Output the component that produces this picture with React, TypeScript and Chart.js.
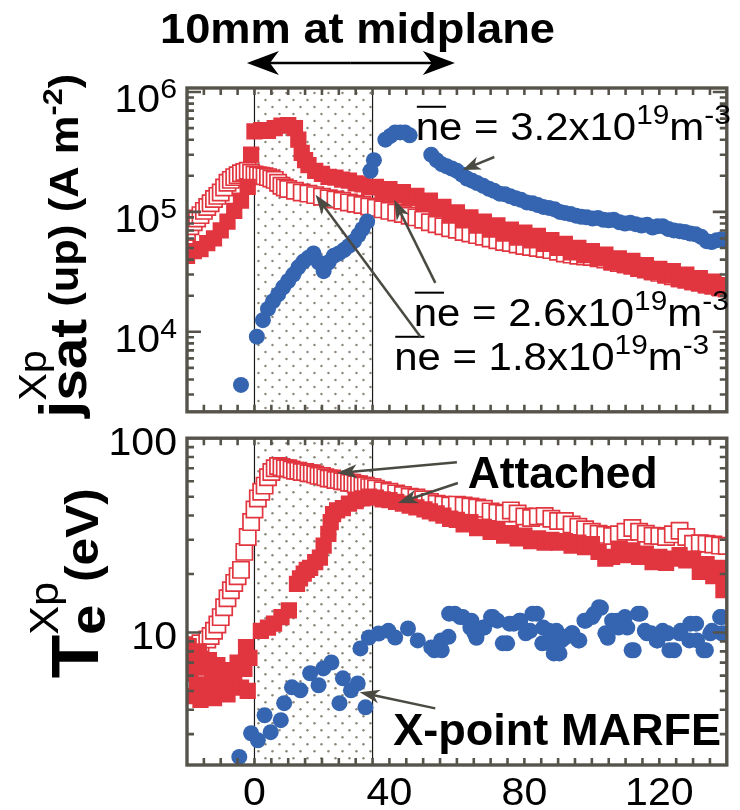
import React, { useEffect, useRef } from "react";
import { Chart, registerables } from "chart.js";

Chart.register(...registerables);

const FONT = '"Liberation Sans", Arial, Helvetica, sans-serif';
const RED = "#e1353f";
const BLUE = "#3565b0";
const FRAME = "#56534b";
const ARROW = "#4a4a42";

// axes
const X_RANGE = [-20, 140];
const X_TICK_LABELS = [0, 40, 80, 120];
const X_MINOR_STEP = 5;
const SHADE_RANGE = [0, 35];
const JSAT_RANGE = [2.15e3, 1.08e6];
const JSAT_LABEL_EXPONENTS = [4, 5, 6];
const TE_RANGE = [2.08, 100];
const TE_LABELS = [10, 100];

// ---- top panel: jsat (A m^-2) ----
const JSAT_NE26: number[][] = [
  [-20, 4.3e4], [-18, 4.7e4], [-16, 4.9e4], [-14, 5.5e4], [-12, 6.0e4], [-10, 7.0e4], [-8, 8.3e4], [-6, 1.02e5],
  [-4, 1.24e5], [-2, 1.62e5], [-1, 3.0e5], [0, 4.7e5], [2, 4.8e5], [4, 4.75e5], [6, 5.0e5], [8, 5.25e5],
  [10, 5.3e5], [12, 5.0e5], [13, 4.0e5], [14, 3.1e5], [15, 2.7e5], [16, 2.45e5], [18, 2.2e5], [20, 2.08e5],
  [22, 1.96e5], [24, 1.93e5], [26, 1.86e5], [28, 1.82e5], [30, 1.73e5], [32, 1.7e5], [34, 1.6e5], [36, 1.62e5],
  [38, 1.45e5], [40, 1.55e5], [42, 1.38e5], [44, 1.46e5], [46, 1.3e5], [48, 1.36e5], [50, 1.18e5], [52, 1.24e5],
  [54, 1.05e5], [56, 1.1e5], [58, 9.3e4], [60, 9.9e4], [62, 8.5e4], [64, 9.0e4], [66, 7.7e4], [68, 8.3e4],
  [70, 7.1e4], [72, 7.7e4], [74, 6.6e4], [76, 7.1e4], [78, 6.1e4], [80, 6.7e4], [82, 5.8e4], [84, 6.3e4],
  [86, 5.4e4], [88, 5.8e4], [90, 5.0e4], [92, 5.4e4], [94, 4.6e4], [96, 5.0e4], [98, 4.35e4], [100, 4.7e4],
  [102, 4.1e4], [104, 4.4e4], [106, 3.8e4], [108, 4.1e4], [110, 3.6e4], [112, 3.9e4], [114, 3.35e4], [116, 3.6e4],
  [118, 3.15e4], [120, 3.35e4], [122, 2.95e4], [124, 3.2e4], [126, 2.75e4], [128, 3.0e4], [130, 2.6e4], [132, 2.8e4],
  [134, 2.45e4], [136, 2.62e4], [138, 2.3e4], [140, 2.45e4],
];

const JSAT_NE18: number[][] = [
  [-20, 6.8e4], [-19, 7.6e4], [-18, 8.2e4], [-17, 8.8e4], [-16, 9.4e4], [-15, 1.02e5], [-14, 1.1e5], [-13, 1.18e5],
  [-12, 1.28e5], [-11, 1.36e5], [-10, 1.45e5], [-9, 1.6e5], [-8, 1.75e5], [-7, 1.85e5], [-6, 1.95e5], [-5, 2.02e5],
  [-4, 2.1e5], [-3, 2.15e5], [-2, 2.2e5], [-1, 2.12e5], [0, 2.05e5], [1, 2.02e5], [2, 2.0e5], [3, 1.98e5],
  [4, 1.95e5], [5, 1.9e5], [6, 1.85e5], [7, 1.75e5], [8, 1.65e5], [9, 1.6e5], [10, 1.55e5], [12, 1.5e5],
  [14, 1.45e5], [16, 1.42e5], [18, 1.38e5], [20, 1.34e5], [22, 1.3e5], [24, 1.27e5], [26, 1.24e5], [28, 1.2e5],
  [30, 1.17e5], [32, 1.14e5], [34, 1.11e5], [36, 1.08e5], [38, 1.05e5], [40, 1.02e5], [42, 9.9e4], [44, 9.6e4],
  [46, 9.3e4], [48, 9.0e4], [50, 8.6e4], [52, 8.2e4], [54, 7.9e4], [56, 7.6e4], [58, 7.3e4], [60, 7.1e4],
  [62, 6.8e4], [64, 6.6e4], [66, 6.4e4], [68, 6.2e4], [70, 6.0e4], [72, 5.8e4], [74, 5.6e4], [76, 5.5e4],
  [78, 5.35e4], [80, 5.2e4], [82, 5.1e4], [84, 5.0e4], [86, 4.9e4], [88, 4.8e4], [90, 4.65e4], [92, 4.5e4],
  [94, 4.4e4], [96, 4.3e4], [98, 4.25e4], [100, 4.2e4], [102, 4.1e4], [104, 4.0e4], [106, 3.85e4], [108, 3.75e4],
  [110, 3.65e4], [112, 3.55e4], [114, 3.4e4], [116, 3.3e4], [118, 3.2e4], [120, 3.1e4], [122, 3.0e4], [124, 2.9e4],
  [126, 2.8e4], [128, 2.72e4], [130, 2.64e4], [132, 2.56e4], [134, 2.48e4], [136, 2.42e4], [138, 2.36e4], [140, 2.3e4],
];

const JSAT_NE32: number[][] = [
  [-4, 3.6e3], [0.7, 9.1e3], [2.5, 1.25e4], [4, 1.55e4], [5.5, 1.8e4], [7, 2.05e4], [8.5, 2.35e4], [10, 2.65e4],
  [11.5, 3.0e4], [13, 3.45e4], [14.5, 3.85e4], [16, 4.15e4], [17.5, 4.5e4], [19, 3.8e4], [20.5, 3.2e4], [22, 3.8e4],
  [23.5, 4.3e4], [25, 4.5e4], [26.5, 4.8e4], [28, 5.2e4], [29.5, 5.7e4], [30.8, 6.4e4], [32, 7.2e4], [33.4, 8.3e4],
  [34.4, 2.2e5], [35.4, 2.7e5], [38.8, 4.0e5], [40.3, 4.3e5], [41.7, 4.6e5], [43.2, 4.6e5], [44.6, 4.6e5], [46, 4.35e5],
  [52.4, 3.0e5], [54, 2.7e5], [55.5, 2.5e5], [57, 2.4e5], [58.5, 2.3e5], [60, 2.2e5], [61.5, 2.05e5], [63, 1.9e5],
  [64.5, 1.82e5], [66, 1.74e5], [67.8, 1.65e5], [69.5, 1.56e5], [71, 1.5e5], [72.7, 1.42e5], [74.3, 1.4e5], [75.8, 1.35e5],
  [77.4, 1.3e5], [79, 1.26e5], [80.7, 1.2e5], [82.4, 1.18e5], [84, 1.14e5], [85.6, 1.1e5], [87.3, 1.08e5], [89, 1.05e5],
  [90.5, 1.0e5], [92, 9.8e4], [93.7, 9.6e4], [95.3, 9.3e4], [96.9, 9.1e4], [98.5, 9.0e4], [100.2, 8.8e4], [101.8, 8.9e4],
  [103.4, 8.6e4], [105, 8.5e4], [106.5, 8.6e4], [108.2, 8.2e4], [109.8, 8.0e4], [111.4, 8.1e4], [113, 7.9e4], [114.7, 7.7e4],
  [116.4, 7.8e4], [118, 7.4e4], [119.5, 7.6e4], [121, 7.6e4], [122.7, 7.2e4], [124.3, 7.0e4], [126, 6.9e4], [127.6, 6.8e4],
  [129.2, 6.6e4], [130.8, 6.5e4], [132.4, 6.2e4], [134, 5.7e4], [135.5, 5.6e4], [137, 5.8e4], [138.5, 5.9e4], [140, 5.7e4],
];

// ---- bottom panel: Te (eV) ----
const TE_NE18: number[][] = [
  [-20, 4.8], [-19.5, 8.2], [-19, 5.5], [-18, 8.6], [-17, 6.2], [-16, 8.8], [-15, 7.0], [-14, 9.2],
  [-13, 9.6], [-12, 10.2], [-11, 11], [-10, 12], [-9, 13.5], [-8, 15], [-7, 16.5], [-6, 18],
  [-5, 19.5], [-4, 21], [-3, 26], [-2, 31], [-1, 37], [0, 43], [1, 49], [2, 53],
  [3, 57], [4, 63], [5, 67], [6, 70], [7, 72], [8, 71], [9, 70], [10, 70],
  [11, 69], [12, 68], [13, 68], [14, 67], [15, 67], [16, 66], [17, 66], [18, 65],
  [19, 64], [20, 64], [21, 63], [22, 62], [23, 62], [24, 61], [25, 61], [26, 60],
  [27, 60], [28, 59], [29, 59], [30, 58], [31, 58], [32, 57], [33, 57], [34, 56],
  [35, 56], [36, 55], [38, 54], [40, 53], [42, 52], [44, 51], [46, 50], [48, 49.5],
  [50, 48.5], [52, 47], [54, 46], [56, 45.5], [58, 45], [60, 45.5], [62, 45], [64, 44.5],
  [66, 44], [68, 43.3], [70, 42], [72, 41.3], [74, 41], [76, 42.5], [78, 41], [80, 39.5],
  [82, 38.8], [84, 39.5], [86, 39.8], [88, 38.5], [90, 37.5], [92, 37.5], [94, 36], [96, 35],
  [98, 34], [100, 33], [102, 32.2], [104, 31.8], [106, 31.4], [108, 32], [110, 33], [112, 34.5],
  [114, 33], [116, 32.2], [118, 31.5], [120, 31.4], [122, 31], [124, 32], [126, 33.4], [128, 31],
  [130, 28.6], [132, 28.8], [134, 28.6], [136, 28.4], [138, 28], [140, 27.9],
];

const TE_NE26: number[][] = [
  [-19.5, 8.5], [-19, 6.2], [-18.5, 4.7], [-18, 7.4], [-17, 5.4], [-16.5, 8.0], [-16, 4.5], [-15, 6.6],
  [-14, 5.0], [-13.5, 7.2], [-12.5, 5.8], [-12, 4.6], [-11, 6.8], [-10, 5.3], [-9, 6.0], [-8, 4.8],
  [-7.5, 6.4], [-7, 5.5], [-6, 5.8], [-5, 7.0], [-4, 5.2], [-3, 6.5], [-2.5, 8.4], [-2, 5.0],
  [-1.5, 7.4], [1.9, 10.2], [4, 10.6], [5.8, 11.1], [8, 12], [10.2, 13], [12.6, 17.8], [13.5, 19],
  [14.6, 20.1], [15.5, 21], [16.5, 21.5], [18, 23], [19.4, 24.3], [20.5, 28], [21.9, 32.2], [22.6, 37],
  [23.3, 40.7], [24.5, 42.5], [26.2, 43.7], [28, 46], [30, 47.5], [32, 49], [34, 50], [36, 49.5],
  [38, 48.5], [40, 48], [42, 47], [44, 46], [46, 45], [48, 44], [50.4, 43], [52, 42],
  [54, 41], [56, 40], [58, 38.5], [60, 38], [62, 36], [64, 37], [66, 34.5], [68, 35],
  [70, 33], [72, 34], [74, 31.5], [76, 32.5], [78, 30.5], [80, 31.5], [82, 29.5], [84, 30.5],
  [86, 29], [88, 30], [90, 29], [92, 29.5], [94, 28], [96, 29], [98, 27.5], [100, 28.5],
  [102, 26], [104, 24], [106, 24.5], [108, 27], [110, 25], [112, 26.5], [114, 24.5], [116, 25.5],
  [118, 23], [120, 24.5], [122, 22.8], [124, 24], [126, 25], [128, 23.5], [130, 24], [132, 20.5],
  [134, 22.5], [136, 19.5], [138, 21.5], [139, 16.5], [140, 19],
];

const TE_NE32: number[][] = [
  [-4.5, 2.29], [-1, 3.03], [1, 2.79], [3, 3.75], [4.8, 3.07], [7.8, 3.54], [8.8, 4.33], [11.1, 5.22],
  [13.6, 5.04], [16.5, 6.17], [19, 5.35], [20.4, 6.53], [22.8, 7.01], [25.2, 4.33], [26.2, 5.81], [28.6, 5.04],
  [30.6, 5.47], [32.9, 4.12], [31.4, 8.28], [33.9, 9.42], [36.8, 9.88], [39.7, 10.2], [41.7, 9.42], [45.5, 10.5],
  [48.4, 9.1], [52.4, 8.38], [53.3, 8.1], [55.3, 9.1], [57.7, 12.5], [61, 12], [64, 10.6], [65.8, 9.4],
  [67.8, 10.6], [70.7, 12], [73.6, 8.8], [75.6, 11.1], [78.6, 11.5], [80.4, 9.9], [82.4, 12.5], [85.3, 8.8],
  [87.3, 10.2], [88.7, 7.8], [91, 9.1], [94, 9.9], [96, 9.1], [97.8, 11.5], [100.7, 12.5], [102.7, 13.4],
  [104.7, 9.4], [107.6, 11.5], [110.5, 10.6], [112.4, 8.1], [114.4, 12.5], [116.3, 9.9], [119.2, 9.1], [121, 10.2],
  [123, 8.1], [126, 9.9], [128.9, 9.1], [130.9, 11.1], [133.8, 8.1], [135.6, 10.2], [138.5, 12], [138.5, 9.9],
  [55.5, 8.1], [57.5, 9.5], [59.4, 12.5], [61.8, 12], [64.3, 11.5], [65.2, 9.9], [68.1, 10.6], [70.1, 12],
  [72, 11.5], [74.9, 8.8], [76.9, 11.1], [78.8, 11.5], [81.7, 10.2], [83.7, 12.5], [85.6, 10.6], [87.5, 8.8],
  [89.5, 10.2], [90.4, 7.8], [92.4, 9.5], [94.3, 9.9], [96.3, 9.1], [98.2, 11.5], [100.1, 12], [102.1, 13.5],
  [104, 9.9], [106, 11.5], [107.9, 10.6], [109.8, 12], [111.8, 8.1], [113.7, 12.5], [115.7, 10.2], [117.6, 9.9],
  [119.5, 9.1], [122.5, 9.9], [124.4, 8.1], [126.3, 10.2], [129.2, 11.1], [131.2, 9.1], [133.1, 8.1], [135.1, 9.9],
  [138, 12], [139.9, 9.9],
];

// ---------- drawing helpers ----------
type Seg = { t: string; size: number; bold?: boolean; dy?: number; over?: boolean; adv?: boolean };
const segFont = (s: Seg) => `${s.bold ? "bold " : ""}${s.size}px ${FONT}`;

function richWidth(ctx: CanvasRenderingContext2D, segs: Seg[]) {
  let w = 0;
  for (const s of segs) {
    ctx.font = segFont(s);
    if (s.adv !== false) w += ctx.measureText(s.t).width;
  }
  return w;
}

function drawRich(
  ctx: CanvasRenderingContext2D,
  segs: Seg[],
  x: number,
  y: number,
  o: { width?: number; stretch?: number; align?: "left" | "right" | "center"; rot?: number; color?: string } = {}
) {
  ctx.save();
  ctx.translate(x, y);
  if (o.rot) ctx.rotate(o.rot);
  const nat = richWidth(ctx, segs);
  const sx = o.width ? o.width / nat : o.stretch || 1;
  let cx = o.align === "right" ? -nat : o.align === "center" ? -nat / 2 : 0;
  ctx.scale(sx, 1);
  ctx.fillStyle = o.color || "#000";
  ctx.textAlign = "left";
  ctx.textBaseline = "alphabetic";
  for (const s of segs) {
    ctx.font = segFont(s);
    const m = ctx.measureText(s.t).width;
    ctx.fillText(s.t, cx, s.dy || 0);
    if (s.over) ctx.fillRect(cx + 1, (s.dy || 0) - s.size * 0.9, m * 1.25, 2);
    if (s.adv !== false) cx += m;
  }
  ctx.restore();
}

function arrow(ctx: CanvasRenderingContext2D, x1: number, y1: number, x2: number, y2: number, color: string, lw: number, hl: number, hw: number) {
  const dx = x2 - x1, dy = y2 - y1, L = Math.hypot(dx, dy), ux = dx / L, uy = dy / L;
  const bx = x2 - ux * hl, by = y2 - uy * hl;
  ctx.save();
  ctx.strokeStyle = color;
  ctx.fillStyle = color;
  ctx.lineWidth = lw;
  ctx.beginPath();
  ctx.moveTo(x1, y1);
  ctx.lineTo(x2 - ux * hl * 0.6, y2 - uy * hl * 0.6);
  ctx.stroke();
  ctx.beginPath();
  ctx.moveTo(x2, y2);
  ctx.lineTo(bx - uy * hw, by + ux * hw);
  ctx.lineTo(x2 - ux * hl * 0.72, y2 - uy * hl * 0.72);
  ctx.lineTo(bx + uy * hw, by - ux * hw);
  ctx.closePath();
  ctx.fill();
  ctx.restore();
}

function logTicks(min: number, max: number) {
  const out: { v: number; major: boolean }[] = [];
  for (let e = Math.floor(Math.log10(min)); e <= Math.ceil(Math.log10(max)); e++) {
    for (let m = 1; m <= 9; m++) {
      const v = m * Math.pow(10, e);
      if (v > min && v < max) out.push({ v, major: m === 1 });
    }
  }
  return out;
}

function drawShade(chart: any) {
  const { ctx, chartArea: a, scales } = chart;
  const x0 = scales.x.getPixelForValue(SHADE_RANGE[0]);
  const x1 = scales.x.getPixelForValue(SHADE_RANGE[1]);
  ctx.save();
  ctx.beginPath();
  ctx.rect(x0, a.top, x1 - x0, a.bottom - a.top);
  ctx.clip();
  ctx.fillStyle = "#8b8679";
  let row = 0;
  for (let y = a.top + 5; y < a.bottom; y += 7, row++) {
    const off = row % 2 ? 7 : 0;
    for (let x = x0 + 4 + off; x < x1; x += 14) {
      ctx.beginPath();
      ctx.arc(x, y, 1.2, 0, Math.PI * 2);
      ctx.fill();
    }
  }
  ctx.restore();
  ctx.save();
  ctx.strokeStyle = "#1a1a1a";
  ctx.lineWidth = 1.2;
  ctx.beginPath();
  ctx.moveTo(x0, a.top);
  ctx.lineTo(x0, a.bottom);
  ctx.moveTo(x1, a.top);
  ctx.lineTo(x1, a.bottom);
  ctx.stroke();
  ctx.restore();
}

function drawFrame(chart: any, yMin: number, yMax: number) {
  const { ctx, chartArea: a, scales } = chart;
  const xs = scales.x, ys = scales.y;
  ctx.save();
  ctx.strokeStyle = FRAME;
  ctx.lineWidth = 2.6;
  ctx.beginPath();
  for (let v = X_RANGE[0] + X_MINOR_STEP; v < X_RANGE[1]; v += X_MINOR_STEP) {
    const px = xs.getPixelForValue(v);
    ctx.moveTo(px, a.bottom);
    ctx.lineTo(px, a.bottom - 7);
    ctx.moveTo(px, a.top);
    ctx.lineTo(px, a.top + 7);
  }
  for (const t of logTicks(yMin, yMax)) {
    const py = ys.getPixelForValue(t.v);
    const len = t.major ? 14 : 7;
    ctx.moveTo(a.left, py);
    ctx.lineTo(a.left + len, py);
    ctx.moveTo(a.right, py);
    ctx.lineTo(a.right - len, py);
  }
  ctx.stroke();
  ctx.lineWidth = 3.4;
  ctx.strokeRect(a.left, a.top, a.right - a.left, a.bottom - a.top);
  ctx.restore();
}

const pts = (arr: number[][]) => arr.map(([x, y]) => ({ x, y }));
const squares = (arr: number[][], filled: boolean) => ({
  data: pts(arr),
  pointStyle: "rect",
  pointRadius: 11.5,
  pointBackgroundColor: filled ? RED : "#ffffff",
  pointBorderColor: RED,
  pointBorderWidth: filled ? 0 : 1.7,
  showLine: false,
  clip: 0,
});
const circles = (arr: number[][]) => ({
  data: pts(arr),
  pointStyle: "circle",
  pointRadius: 8,
  pointBackgroundColor: BLUE,
  pointBorderWidth: 0,
  showLine: false,
  clip: 0,
});

function baseOptions(yMin: number, yMax: number, padding: any) {
  return {
    animation: false,
    responsive: false,
    maintainAspectRatio: false,
    devicePixelRatio: 1,
    events: [],
    layout: { padding },
    plugins: { legend: { display: false }, tooltip: { enabled: false } },
    scales: {
      x: { type: "linear", min: X_RANGE[0], max: X_RANGE[1], display: false },
      y: { type: "logarithmic", min: yMin, max: yMax, display: false },
    },
  };
}

const neLabel = (val: string): Seg[] => [
  { t: "n", size: 38, over: true },
  { t: "e = " + val + "x10", size: 38 },
  { t: "19", size: 27, dy: -16 },
  { t: "m", size: 38 },
  { t: "-3", size: 27, dy: -16 },
];

const topPlugin = {
  id: "topPanel",
  beforeDatasetsDraw(chart: any) {
    drawShade(chart);
  },
  afterDatasetsDraw(chart: any) {
    const { ctx, chartArea: a, scales } = chart;
    const X = (v: number) => scales.x.getPixelForValue(v);
    const Y = (v: number) => scales.y.getPixelForValue(v);
    drawFrame(chart, JSAT_RANGE[0], JSAT_RANGE[1]);
    for (const e of JSAT_LABEL_EXPONENTS) {
      const py = Y(Math.pow(10, e));
      drawRich(ctx, [{ t: "10", size: 38 }, { t: String(e), size: 28, dy: -14 }], a.left - 10, py + 20, { align: "right", stretch: 1.08 });
    }
    // y title
    drawRich(
      ctx,
      [
        { t: "j", size: 56, bold: true },
        { t: "Xp", size: 38, dy: -32, adv: false },
        { t: "sat", size: 52, bold: true, dy: 8 },
        { t: " (up) (A m", size: 40, bold: true },
        { t: "-2", size: 28, bold: true, dy: -16 },
        { t: ")", size: 40, bold: true },
      ],
      78,
      a.bottom + 6,
      { rot: -Math.PI / 2, width: 344 }
    );
    // title + double arrow
    drawRich(ctx, [{ t: "10mm at midplane", size: 42, bold: true }], 160, a.top - 45, { width: 395 });
    const ax1 = X(-2.25), ax2 = X(59.4), ay = a.top - 25;
    const mid = (ax1 + ax2) / 2;
    arrow(ctx, mid, ay, ax1, ay, "#000", 2.4, 32, 12);
    arrow(ctx, mid, ay, ax2, ay, "#000", 2.4, 32, 12);
    // density labels
    drawRich(ctx, neLabel("3.2"), X(47.8), Y(3.98e5), { width: 315 });
    drawRich(ctx, neLabel("2.6"), X(47.2), Y(1.12e4), { width: 315 });
    drawRich(ctx, neLabel("1.8"), X(41.4), Y(4.8e3), { width: 315 });
    arrow(ctx, X(71.1), Y(2.87e5), X(61.7), Y(2.24e5), ARROW, 2.5, 18, 7);
    arrow(ctx, X(53.6), Y(2.56e4), X(41.4), Y(1.26e5), ARROW, 2.5, 20, 7);
    arrow(ctx, X(49.2), Y(9.1e3), X(18.1), Y(1.39e5), ARROW, 2.5, 20, 7);
  },
};

const bottomPlugin = {
  id: "bottomPanel",
  beforeDatasetsDraw(chart: any) {
    drawShade(chart);
  },
  afterDatasetsDraw(chart: any) {
    const { ctx, chartArea: a, scales } = chart;
    const X = (v: number) => scales.x.getPixelForValue(v);
    const Y = (v: number) => scales.y.getPixelForValue(v);
    drawFrame(chart, TE_RANGE[0], TE_RANGE[1]);
    for (const v of TE_LABELS) {
      drawRich(ctx, [{ t: String(v), size: 38 }], a.left - 10, Y(v) + 17, { align: "right", stretch: 1.08 });
    }
    for (const v of X_TICK_LABELS) {
      drawRich(ctx, [{ t: String(v), size: 38 }], X(v), a.bottom + 40, { align: "center", stretch: 1.08 });
    }
    drawRich(
      ctx,
      [
        { t: "T", size: 66, bold: true },
        { t: "e", size: 50, bold: true, dy: 7, adv: false },
        { t: "Xp", size: 40, dy: -40 },
        { t: "(eV)", size: 46, bold: true },
      ],
      98,
      a.top + 240,
      { rot: -Math.PI / 2, width: 190 }
    );
    drawRich(ctx, [{ t: "Attached", size: 45, bold: true }], X(63.2), Y(55.5), { width: 190 });
    drawRich(ctx, [{ t: "X-point MARFE", size: 45, bold: true }], X(41.1), Y(2.63), { width: 328 });
    arrow(ctx, X(60), Y(75.3), X(24.5), Y(66.2), ARROW, 2.5, 20, 7);
    arrow(ctx, X(60.3), Y(58.8), X(42.5), Y(46.4), ARROW, 2.5, 20, 7);
    arrow(ctx, X(53.6), Y(4.07), X(31.2), Y(4.92), ARROW, 2.5, 20, 7);
  },
};

export default function App() {
  const topRef = useRef<HTMLCanvasElement>(null);
  const botRef = useRef<HTMLCanvasElement>(null);

  useEffect(() => {
    const top = new Chart(topRef.current as HTMLCanvasElement, {
      type: "scatter",
      data: { datasets: [circles(JSAT_NE32), squares(JSAT_NE26, true), squares(JSAT_NE18, false)] as any },
      options: baseOptions(JSAT_RANGE[0], JSAT_RANGE[1], { left: 187, right: 3, top: 88, bottom: 13 }) as any,
      plugins: [topPlugin],
    });
    const bot = new Chart(botRef.current as HTMLCanvasElement, {
      type: "scatter",
      data: { datasets: [circles(TE_NE32), squares(TE_NE26, true), squares(TE_NE18, false)] as any },
      options: baseOptions(TE_RANGE[0], TE_RANGE[1], { left: 187, right: 3, top: 12, bottom: 45 }) as any,
      plugins: [bottomPlugin],
    });
    return () => {
      top.destroy();
      bot.destroy();
    };
  }, []);

  return (
    <div style={{ position: "fixed", left: 0, top: 0, width: 740, height: 810, background: "#fff" }}>
      <canvas ref={topRef} width={740} height={425} style={{ position: "absolute", left: 0, top: 0, width: 740, height: 425 }} />
      <canvas ref={botRef} width={740} height={385} style={{ position: "absolute", left: 0, top: 425, width: 740, height: 385 }} />
    </div>
  );
}
